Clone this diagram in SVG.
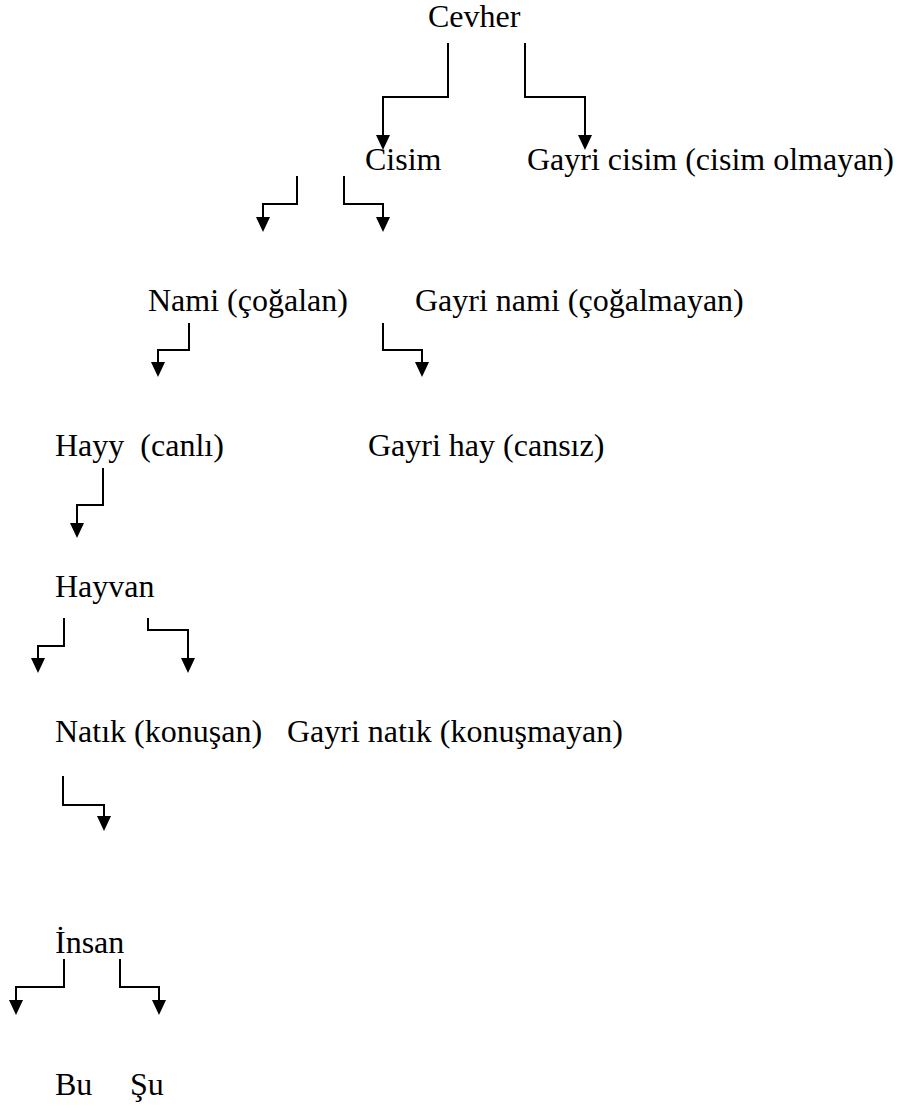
<svg xmlns="http://www.w3.org/2000/svg" width="897" height="1108" viewBox="0 0 897 1108">
<style>
text{font-family:"Liberation Serif","Times New Roman",serif;font-size:32px;fill:#000}
.c{fill:none;stroke:#000;stroke-width:2;marker-end:url(#ah)}
</style>
<defs>
<marker id="ah" markerUnits="userSpaceOnUse" markerWidth="15" markerHeight="14" viewBox="0 0 15 14" refX="0" refY="7" orient="auto">
<path d="M0,0 L15,7 L0,14 z" fill="#000"/>
</marker>
</defs>
<rect width="897" height="1108" fill="#fff"/>
<g id="connectors">
<polyline class="c" points="448,43 448,97 383,97 383,135"/>
<polyline class="c" points="525,43 525,97 585,97 585,135"/>
<polyline class="c" points="297,176 297,204 263,204 263,217"/>
<polyline class="c" points="344,176 344,204 383,204 383,217"/>
<polyline class="c" points="189,323 189,350 158,350 158,362"/>
<polyline class="c" points="383,323 383,350 422,350 422,362"/>
<polyline class="c" points="103,468 103,505 77,505 77,523"/>
<polyline class="c" points="64,618 64,646 38,646 38,658"/>
<polyline class="c" points="148,618 148,630 188,630 188,658"/>
<polyline class="c" points="63,776 63,805 104,805 104,816"/>
<polyline class="c" points="64,959 64,987 16,987 16,1000"/>
<polyline class="c" points="120,959 120,987 159,987 159,1000"/>
</g>
<g id="cevher"><text x="428" y="27">Cevher</text></g>
<g id="cisim"><text x="365" y="170">Cisim</text></g>
<g id="gayri-cisim"><text x="527" y="170">Gayri cisim (cisim olmayan)</text></g>
<g id="nami"><text x="148" y="311">Nami (çoğalan)</text></g>
<g id="gayri-nami"><text x="415" y="311">Gayri nami (çoğalmayan)</text></g>
<g id="hayy"><text x="55" y="456" xml:space="preserve">Hayy  (canlı)</text></g>
<g id="gayri-hay"><text x="368" y="456">Gayri hay (cansız)</text></g>
<g id="hayvan"><text x="55" y="597">Hayvan</text></g>
<g id="natik"><text x="55" y="742">Natık (konuşan)</text></g>
<g id="gayri-natik"><text x="287" y="742">Gayri natık (konuşmayan)</text></g>
<g id="insan"><text x="55" y="953">İnsan</text></g>
<g id="bu"><text x="55" y="1095">Bu</text></g>
<g id="su"><text x="130" y="1095">Şu</text></g>
</svg>
